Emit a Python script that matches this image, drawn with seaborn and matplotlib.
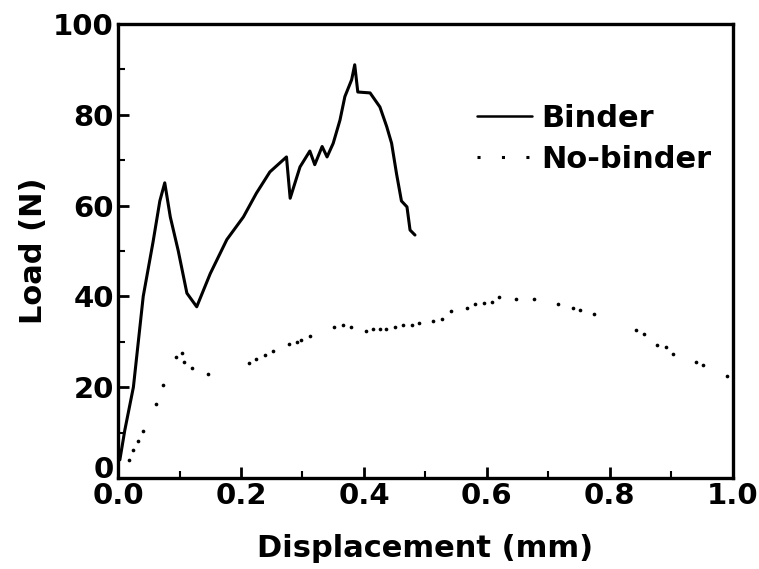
import matplotlib
matplotlib.use("Agg")
import matplotlib.pyplot as plt
from matplotlib.lines import Line2D
from matplotlib.ticker import MultipleLocator
import seaborn as sns
import numpy as np

# Binder curve
binder_x = [0.003, 0.011, 0.025, 0.041, 0.057, 0.068, 0.076, 0.085, 0.098, 0.112, 0.128,
            0.150, 0.177, 0.204, 0.225, 0.247, 0.274, 0.280, 0.296, 0.312, 0.320, 0.332,
            0.340, 0.350, 0.361, 0.369, 0.380, 0.385, 0.390, 0.410, 0.426, 0.437, 0.445,
            0.453, 0.461, 0.470, 0.475, 0.483]
binder_y = [4.0, 10.5, 20.0, 40.0, 52.0, 61.0, 65.0, 57.5, 50.0, 40.7, 37.7,
            45.0, 52.5, 57.5, 62.7, 67.4, 70.7, 61.6, 68.5, 72.0, 69.0, 73.0,
            70.7, 73.7, 78.8, 84.0, 87.7, 91.0, 85.0, 84.8, 81.7, 77.4, 73.7,
            67.0, 61.0, 59.7, 54.6, 53.5]

# No-binder scattered points
nob_x = [0.018, 0.025, 0.033, 0.040, 0.062, 0.073, 0.094, 0.104, 0.108, 0.121, 0.146,
         0.213, 0.224, 0.239, 0.252, 0.278, 0.291, 0.298, 0.312, 0.351, 0.366, 0.379,
         0.403, 0.415, 0.426, 0.436, 0.450, 0.464, 0.478, 0.489, 0.513, 0.527, 0.541,
         0.567, 0.581, 0.595, 0.609, 0.620, 0.648, 0.676, 0.715, 0.740, 0.751, 0.775,
         0.842, 0.855, 0.877, 0.891, 0.902, 0.940, 0.951, 0.990]
nob_y = [4.0, 6.2, 8.1, 10.4, 16.3, 20.5, 26.6, 27.5, 25.5, 24.2, 22.9,
         25.3, 26.2, 27.1, 28.0, 29.5, 30.0, 30.4, 31.3, 33.3, 33.7, 33.3,
         32.4, 32.8, 32.8, 32.8, 33.3, 33.7, 33.7, 34.1, 34.6, 35.0, 36.8,
         37.4, 38.3, 38.5, 38.8, 39.9, 39.4, 39.4, 38.3, 37.4, 37.0, 36.1,
         32.6, 31.7, 29.3, 28.9, 27.3, 25.5, 24.9, 22.5]

x_ticks = [0.0, 0.2, 0.4, 0.6, 0.8, 1.0]
y_ticks = [0, 20, 40, 60, 80, 100]

sns.set_style("ticks")
plt.rcParams['font.family'] = ['DejaVu Sans']
plt.rcParams['font.weight'] = 'bold'
plt.rcParams['text.color'] = 'black'
plt.rcParams['axes.labelcolor'] = 'black'
plt.rcParams['xtick.color'] = 'black'
plt.rcParams['ytick.color'] = 'black'
plt.rcParams['axes.edgecolor'] = 'black'

fig = plt.figure(figsize=(7.59, 5.69), dpi=100)
ax = fig.add_axes([0.1555, 0.16, 0.81, 0.798])

sns.lineplot(x=binder_x, y=binder_y, sort=False, estimator=None, color='black',
             linewidth=2.2, ax=ax)
sns.scatterplot(x=nob_x, y=nob_y, color='black', s=7, marker='o', linewidth=0, ax=ax)

ax.set_xlim(0, 1.0)
ax.set_ylim(0, 100)
ax.set_xticks(x_ticks)
ax.set_xticklabels([f"{v:.1f}" for v in x_ticks])
ax.set_yticks(y_ticks)
ax.set_yticklabels([str(v) for v in y_ticks])
ax.xaxis.set_minor_locator(MultipleLocator(0.1))
ax.yaxis.set_minor_locator(MultipleLocator(10))
ax.tick_params(which='major', direction='in', length=8, width=2, labelsize=21, pad=3,
               colors='black')
ax.tick_params(which='minor', direction='in', length=5, width=1.5, colors='black')
for lab in ax.get_xticklabels() + ax.get_yticklabels():
    lab.set_fontweight('bold')
ax.get_yticklabels()[0].set_va('baseline')
for sp in ax.spines.values():
    sp.set_visible(True)
    sp.set_linewidth(2.4)
    sp.set_color('black')

ax.set_xlabel("Displacement (mm)", fontsize=22, fontweight='bold', labelpad=17,
              color='black')
ax.set_ylabel("Load (N)", fontsize=22, fontweight='bold', labelpad=4, color='black')

handles = [Line2D([0], [0], color='black', linewidth=1.8),
           Line2D([0], [0], color='black', linewidth=2.2, linestyle=(0, (1, 7)))]
leg = ax.legend(handles, ["Binder", "No-binder"], loc='upper right',
                bbox_to_anchor=(1.01, 0.885), frameon=False, fontsize=22,
                handlelength=1.8, handletextpad=0.3, labelspacing=0.4)
for t in leg.get_texts():
    t.set_fontweight('bold')
    t.set_color('black')

fig.savefig("out.png", dpi=100)
